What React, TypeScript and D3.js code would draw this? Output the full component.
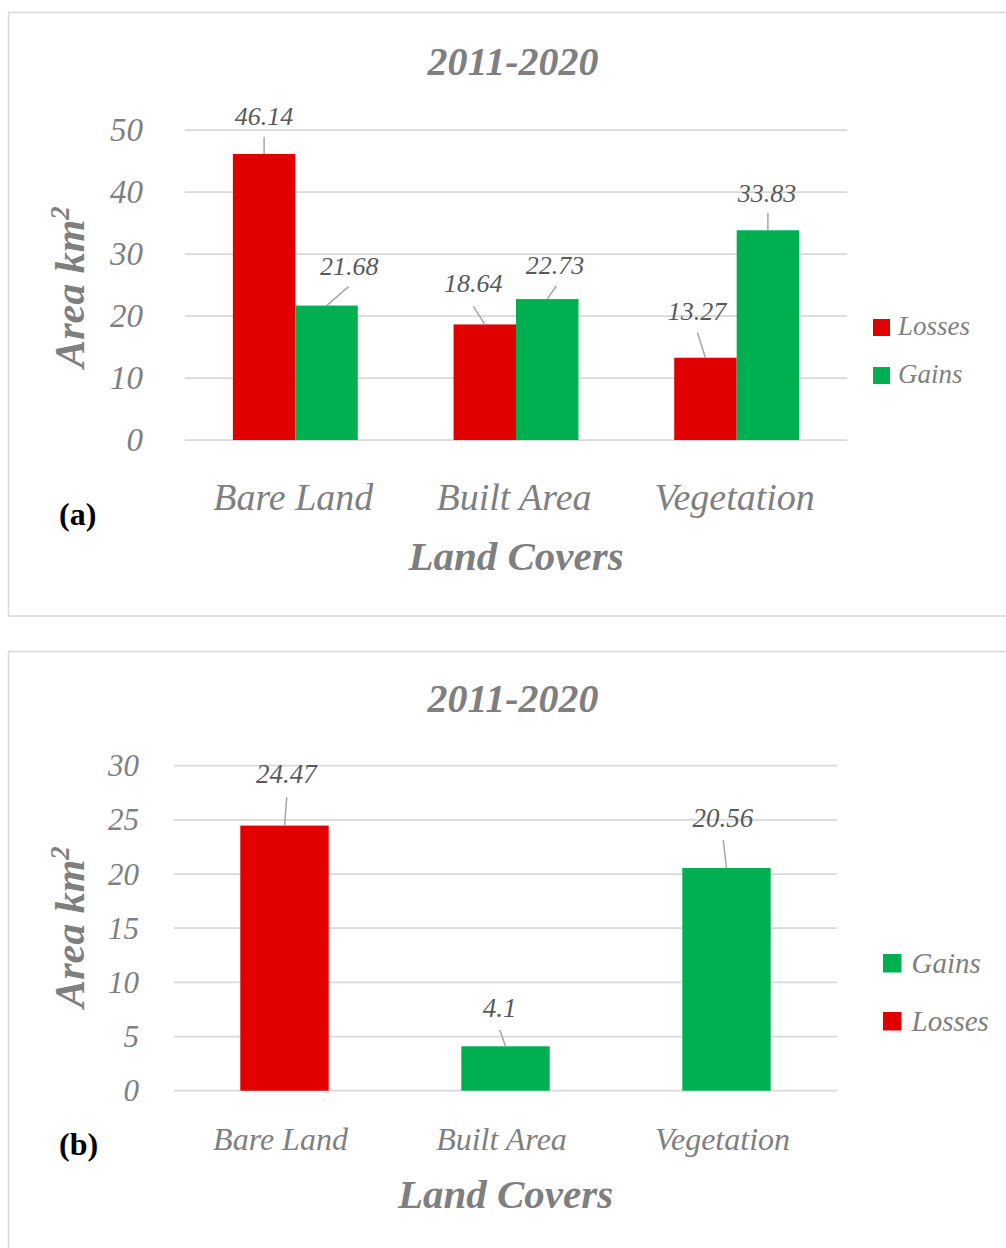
import React from "react";
import * as d3 from "d3";

// ---- data ----
const categories = ["Bare Land", "Built Area", "Vegetation"];

// Panel (a): losses and gains per land cover
const seriesA = ["Losses", "Gains"];
const lossesA = [46.14, 18.64, 13.27];
const gainsA = [21.68, 22.73, 33.83];
const ticksA = [0, 10, 20, 30, 40, 50];

// Panel (b): net change per land cover
const valuesB = [24.47, 4.1, 20.56];
const seriesOfB = ["Losses", "Gains", "Gains"];
const legendB = ["Gains", "Losses"];
const ticksB = [0, 5, 10, 15, 20, 25, 30];

const titleText = "2011-2020";
const xTitle = "Land Covers";
const yTitle = "Area km";

const COLORS: Record<string, string> = { Losses: "#E00000", Gains: "#00B050" };

// label placement relative to the top-centre of each bar:
// [labelDx, labelBaselineDy, leaderEndDx, leaderEndDy]
const labelOffsetsA: number[][][] = [
  [[0, -29, 0, -17], [22.7, -30.6, 22, -19]],
  [[-11.5, -32.7, -11.5, -18.4], [7.8, -25, 9, -13.1]],
  [[-8.5, -37.7, -8, -25], [-1, -28.6, 0, -17.3]],
];
const labelOffsetsB: number[][] = [
  [1.8, -42.3, 2.3, -28.3],
  [-5.8, -29, -5.7, -16.3],
  [-3.7, -41.2, -3.2, -28],
];

const FONT = "'Liberation Serif', 'DejaVu Serif', serif";
const GRID = "#D9D9D9";
const AXIS_TEXT = "#7F7F7F";
const LABEL_TEXT = "#595959";
const LEADER = "#A6A6A6";

function YTitle({ x, y }: { x: number; y: number }) {
  return (
    <text
      transform={`translate(${x},${y}) rotate(-90)`}
      textAnchor="middle"
      fontFamily={FONT}
      fontStyle="italic"
      fontWeight="bold"
      fontSize={42}
      fill={AXIS_TEXT}
    >
      {yTitle}
      <tspan fontSize={27} dy={-15}>2</tspan>
    </text>
  );
}

function PanelA() {
  const x0 = 185, x1 = 847, yBase = 440, yTop = 130;
  const x = d3.scaleBand<string>().domain(categories).range([x0, x1]).paddingInner(0.434).paddingOuter(0.217);
  const xs = d3.scaleBand<string>().domain(seriesA).range([0, x.bandwidth()]);
  const y = d3.scaleLinear().domain([0, 50]).range([yBase, yTop]);
  const rows = categories.map((c, i) => ({ c, vals: [lossesA[i], gainsA[i]] }));

  return (
    <g>
      <rect x={8.5} y={12.5} width={1010} height={603.5} fill="#fff" stroke={GRID} strokeWidth={1.5} />
      <text x={513} y={75} textAnchor="middle" fontFamily={FONT} fontStyle="italic" fontWeight="bold" fontSize={40} fill={AXIS_TEXT}>
        {titleText}
      </text>
      {ticksA.map((t) => (
        <g key={t}>
          <line x1={x0} x2={x1} y1={y(t)} y2={y(t)} stroke={GRID} strokeWidth={1.75} />
          <text x={143} y={y(t)} dy="0.34em" textAnchor="end" fontFamily={FONT} fontStyle="italic" fontSize={33} fill={AXIS_TEXT}>
            {t}
          </text>
        </g>
      ))}
      {rows.map((r, i) =>
        r.vals.map((v, j) => {
          const s = seriesA[j];
          const bx = (x(r.c) as number) + (xs(s) as number);
          const bw = xs.bandwidth();
          const cx = bx + bw / 2;
          const top = y(v);
          const [ldx, ldy, edx, edy] = labelOffsetsA[i][j];
          return (
            <g key={`${i}-${j}`}>
              <rect x={bx} y={top} width={bw} height={yBase - top} fill={COLORS[s]} />
              <line x1={cx} y1={top} x2={cx + edx} y2={top + edy} stroke={LEADER} strokeWidth={1.5} />
              <text x={cx + ldx} y={top + ldy} textAnchor="middle" fontFamily={FONT} fontStyle="italic" fontSize={26} fill={LABEL_TEXT}>
                {v.toString()}
              </text>
            </g>
          );
        })
      )}
      {categories.map((c) => (
        <text key={c} x={(x(c) as number) + x.bandwidth() / 2 - 2} y={510} textAnchor="middle" fontFamily={FONT} fontStyle="italic" fontSize={38} fill={AXIS_TEXT}>
          {c}
        </text>
      ))}
      <text x={(x0 + x1) / 2} y={570} textAnchor="middle" fontFamily={FONT} fontStyle="italic" fontWeight="bold" fontSize={41} fill={AXIS_TEXT}>
        {xTitle}
      </text>
      <YTitle x={84} y={287} />
      {seriesA.map((s, k) => (
        <g key={s}>
          <rect x={873} y={319 + k * 48} width={17} height={17} fill={COLORS[s]} />
          <text x={898} y={335 + k * 48} fontFamily={FONT} fontStyle="italic" fontSize={27} fill={AXIS_TEXT}>
            {s}
          </text>
        </g>
      ))}
      <text x={59} y={525} fontFamily={FONT} fontWeight="bold" fontSize={32} fill="#000">
        (a)
      </text>
    </g>
  );
}

function PanelB() {
  const x0 = 174, x1 = 837, yBase = 1090.7, yTop = 765.7;
  const x = d3.scaleBand<string>().domain(categories).range([x0, x1]).paddingInner(0.6).paddingOuter(0.3);
  const y = d3.scaleLinear().domain([0, 30]).range([yBase, yTop]);

  return (
    <g>
      <rect x={8.5} y={651.5} width={1010} height={620} fill="#fff" stroke={GRID} strokeWidth={1.5} />
      <text x={513} y={712} textAnchor="middle" fontFamily={FONT} fontStyle="italic" fontWeight="bold" fontSize={40} fill={AXIS_TEXT}>
        {titleText}
      </text>
      {ticksB.map((t) => (
        <g key={t}>
          <line x1={x0} x2={x1} y1={y(t)} y2={y(t)} stroke={GRID} strokeWidth={1.75} />
          <text x={139} y={y(t)} dy="0.34em" textAnchor="end" fontFamily={FONT} fontStyle="italic" fontSize={31} fill={AXIS_TEXT}>
            {t}
          </text>
        </g>
      ))}
      {categories.map((c, i) => {
        const v = valuesB[i];
        const bx = x(c) as number;
        const bw = x.bandwidth();
        const cx = bx + bw / 2;
        const top = y(v);
        const [ldx, ldy, edx, edy] = labelOffsetsB[i];
        return (
          <g key={c}>
            <rect x={bx} y={top} width={bw} height={yBase - top} fill={COLORS[seriesOfB[i]]} />
            <line x1={cx} y1={top} x2={cx + edx} y2={top + edy} stroke={LEADER} strokeWidth={1.5} />
            <text x={cx + ldx} y={top + ldy} textAnchor="middle" fontFamily={FONT} fontStyle="italic" fontSize={27} fill={LABEL_TEXT}>
              {v.toString()}
            </text>
          </g>
        );
      })}
      {categories.map((c) => (
        <text key={c} x={(x(c) as number) + x.bandwidth() / 2 - 4} y={1150} textAnchor="middle" fontFamily={FONT} fontStyle="italic" fontSize={32} fill={AXIS_TEXT}>
          {c}
        </text>
      ))}
      <text x={(x0 + x1) / 2} y={1208} textAnchor="middle" fontFamily={FONT} fontStyle="italic" fontWeight="bold" fontSize={41} fill={AXIS_TEXT}>
        {xTitle}
      </text>
      <YTitle x={84} y={927} />
      {legendB.map((s, k) => (
        <g key={s}>
          <rect x={883} y={954 + k * 58} width={18.5} height={18.5} fill={COLORS[s]} />
          <text x={911.5} y={972.5 + k * 58} fontFamily={FONT} fontStyle="italic" fontSize={29} fill={AXIS_TEXT}>
            {s}
          </text>
        </g>
      ))}
      <text x={59} y={1155} fontFamily={FONT} fontWeight="bold" fontSize={32} fill="#000">
        (b)
      </text>
    </g>
  );
}

export default function App() {
  return (
    <svg
      width={1006}
      height={1248}
      viewBox="0 0 1006 1248"
      style={{ position: "absolute", left: 0, top: 0, background: "#fff" }}
    >
      <rect x={0} y={0} width={1006} height={1248} fill="#fff" />
      <PanelA />
      <PanelB />
    </svg>
  );
}
